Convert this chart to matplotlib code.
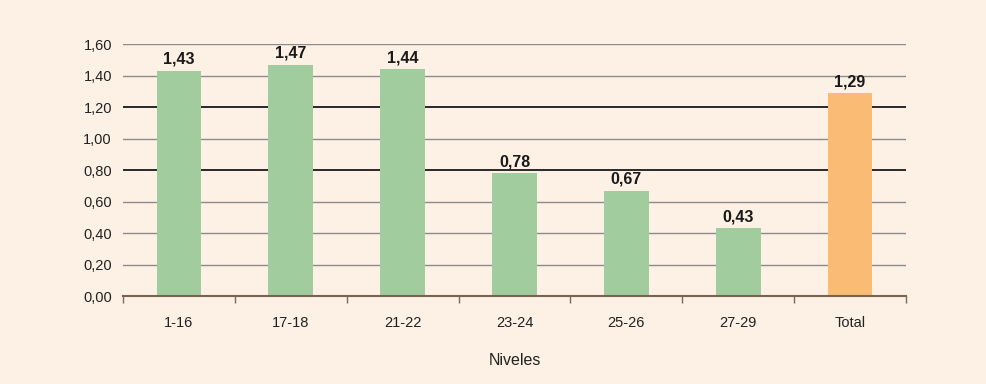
import matplotlib.pyplot as plt
import numpy as np

niveles = ['1-16', '17-18', '21-22', '23-24', '25-26', '27-29', 'Total']
valores = [1.43, 1.47, 1.44, 0.78, 0.67, 0.43, 1.29]
etiquetas = ['1,43', '1,47', '1,44', '0,78', '0,67', '0,43', '1,29']
y_ticks = [0.0, 0.2, 0.4, 0.6, 0.8, 1.0, 1.2, 1.4, 1.6]

plt.rcParams['font.family'] = ['Liberation Sans', 'DejaVu Sans']

fondo = '#FDF0E4'
colores = ['#A1CC9E'] * 6 + ['#FABB74']

fig = plt.figure(figsize=(9.86, 3.84), dpi=100, facecolor=fondo)
ax = fig.add_axes([0.1248, 0.229, 0.794, 0.656])
ax.set_facecolor(fondo)

x = np.arange(len(niveles))
ax.bar(x, valores, width=0.4, color=colores, zorder=3)

# lineas de la rejilla (1,20 y 0,80 en negro)
for v in y_ticks[1:]:
    if abs(v - 1.2) < 1e-9 or abs(v - 0.8) < 1e-9:
        ax.axhline(v, color='#1a1a1a', linewidth=1.3, zorder=1)
    else:
        ax.axhline(v, color='#8c8c8c', linewidth=1.0, zorder=1)

for xi, v, t in zip(x, valores, etiquetas):
    ax.text(xi, v + 0.025, t, ha='center', va='bottom', fontsize=11.5,
            fontweight='bold', color='#1a1a1a')

ax.set_xlim(-0.5, len(niveles) - 0.5)
ax.set_ylim(0, 1.6)
ax.set_yticks(y_ticks)
ax.set_yticklabels([f'{v:.2f}'.replace('.', ',') for v in y_ticks], fontsize=10.5, color='#222222')
ax.tick_params(axis='y', length=0, pad=8)

ax.set_xticks(x)
ax.set_xticklabels(niveles, fontsize=10.5, color='#222222')
ax.set_xticks(np.arange(-0.5, len(niveles)), minor=True)
ax.tick_params(axis='x', which='major', length=0, pad=14)
ax.tick_params(axis='x', which='minor', length=5, color='#7a6a60', width=1)

for s in ['top', 'right', 'left']:
    ax.spines[s].set_visible(False)
ax.spines['bottom'].set_color('#7a6250')
ax.spines['bottom'].set_linewidth(1.5)
ax.spines['bottom'].set_zorder(4)

ax.set_xlabel('Niveles', fontsize=11.5, color='#222222', labelpad=17)

fig.savefig('out.png', dpi=100, facecolor=fondo)
